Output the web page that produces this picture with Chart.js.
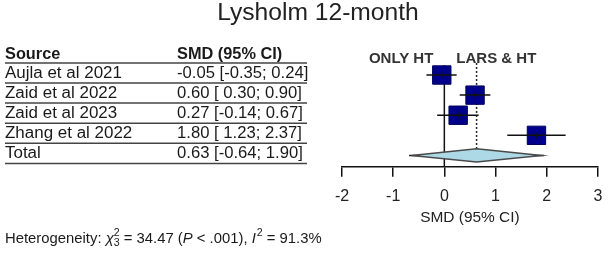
<!DOCTYPE html>
<html>
<head>
<meta charset="utf-8">
<script src="https://cdn.jsdelivr.net/npm/chart.js@4"></script>
<style>
  html, body { margin: 0; padding: 0; background: #fff; }
  #wrap { width: 613px; height: 255px; }
</style>
</head>
<body>
<div id="wrap"><canvas id="myChart" width="613" height="255"></canvas></div>
<script>
// forest plot values
const studies = ["Aujla et al 2021", "Zaid et al 2022", "Zaid et al 2023", "Zhang et al 2022"];
const smd = [-0.05, 0.60, 0.27, 1.80];
const lower = [-0.35, 0.30, -0.14, 1.23];
const upper = [0.24, 0.90, 0.67, 2.37];
const totalLabel = "Total";
const totalSmd = 0.63;
const totalLower = -0.64;
const totalUpper = 1.90;
const xTicks = [-2, -1, 0, 1, 2, 3];

const FONT = '"Liberation Sans", Arial, sans-serif';

function fmt(v) {
  return (v < 0 ? "" : " ") + v.toFixed(2);
}
function ciText(m, lo, hi) {
  return m.toFixed(2) + " [" + fmt(lo) + ";" + fmt(hi) + "]";
}

function txt(ctx, s, x, y, font, color, align, sx) {
  ctx.save();
  ctx.font = font;
  ctx.fillStyle = color;
  ctx.textAlign = align || "left";
  ctx.textBaseline = "alphabetic";
  ctx.translate(x, y);
  ctx.scale(sx || 1, 1);
  ctx.fillText(s, 0, 0);
  const w = ctx.measureText(s).width * (sx || 1);
  ctx.restore();
  return w;
}

const datasets = [];

// CI whiskers for each study (drawn on top)
studies.forEach((s, i) => {
  datasets.push({
    data: [{ x: lower[i], y: i }, { x: upper[i], y: i }],
    showLine: true, borderColor: "#111", borderWidth: 1.5,
    pointRadius: 0, order: 0
  });
});
// small centre cross
datasets.push({
  data: smd.map((v, i) => ({ x: v, y: i })),
  pointStyle: "cross", pointRadius: 3, borderColor: "#111", borderWidth: 1, order: 0
});
// squares
datasets.push({
  data: smd.map((v, i) => ({ x: v, y: i })),
  pointStyle: "rect", pointRadius: 13,
  backgroundColor: "#00008b", borderColor: "#00005a", borderWidth: 1, order: 1
});
// pooled diamond
const ty = studies.length;
datasets.push({
  data: [
    { x: totalLower, y: ty }, { x: totalSmd, y: ty - 0.33 },
    { x: totalUpper, y: ty }, { x: totalSmd, y: ty + 0.33 }, { x: totalLower, y: ty }
  ],
  showLine: true, fill: "shape", tension: 0,
  backgroundColor: "#add8e6", borderColor: "#4a4a4a", borderWidth: 1.5,
  pointRadius: 0, order: 2
});
datasets.push({
  data: [{ x: totalLower - 0.05, y: ty }, { x: totalUpper + 0.05, y: ty }],
  showLine: true, borderColor: "#222", borderWidth: 1.5, pointRadius: 0, order: 3
});
// no-effect line and pooled estimate line
datasets.push({
  data: [{ x: 0, y: -0.5 }, { x: 0, y: 4.56 }],
  showLine: true, borderColor: "#111", borderWidth: 1.5, pointRadius: 0, order: 4
});
datasets.push({
  data: [{ x: totalSmd, y: -0.6 }, { x: totalSmd, y: 3.7 }],
  showLine: true, borderColor: "#222", borderWidth: 1.5, borderDash: [2, 2],
  pointRadius: 0, order: 4
});

const textPlugin = {
  id: "forestText",
  afterDraw(chart) {
    const ctx = chart.ctx;
    const xs = chart.scales.x, ys = chart.scales.y;
    const col = "#1a1a1a";
    const reg = "16px " + FONT, bold = "bold 16px " + FONT;

    // title
    txt(ctx, "Lysholm 12-month", 318, 20, "23px " + FONT, "#222", "center", 1.07);

    // table
    const hy = ys.getPixelForValue(-1);
    txt(ctx, "Source", 5, hy + 4, bold, col, "left", 1.02);
    txt(ctx, "SMD (95% CI)", 177, hy + 4, bold, col, "left", 1.02);
    ctx.save();
    ctx.strokeStyle = "#444";
    ctx.lineWidth = 1.5;
    ctx.beginPath();
    ctx.moveTo(5, hy + 8); ctx.lineTo(307, hy + 8);
    const rows = studies.concat([totalLabel]);
    rows.forEach((r, i) => {
      const py = ys.getPixelForValue(i);
      ctx.moveTo(5, py + 8); ctx.lineTo(307, py + 8);
    });
    ctx.stroke();
    ctx.restore();
    rows.forEach((r, i) => {
      const py = ys.getPixelForValue(i);
      const t = i < studies.length ? ciText(smd[i], lower[i], upper[i]) : ciText(totalSmd, totalLower, totalUpper);
      txt(ctx, r, 5, py + 3, reg, col, "left", 1.06);
      txt(ctx, t, 177, py + 3, reg, col, "left", 1.04);
    });

    // group headers
    const x0 = xs.getPixelForValue(0);
    txt(ctx, "ONLY HT", x0 - 11, hy + 8, "bold 15px " + FONT, "#333", "right", 1);
    txt(ctx, "LARS & HT", x0 + 12, hy + 8, "bold 15px " + FONT, "#333", "left", 1);

    // axis title
    txt(ctx, "SMD (95% CI)", (xs.left + xs.right) / 2, 222, "15px " + FONT, "#222", "center", 1.03);

    // heterogeneity
    const f = "14px " + FONT, fi = "italic 14px " + FONT, fs = "10px " + FONT;
    const k = 1.06;
    let x = 5; const by = 243;
    x += txt(ctx, "Heterogeneity: ", x, by, f, col, "left", k);
    x += txt(ctx, "\u03c7", x, by, fi, col, "left", k);
    const w2 = txt(ctx, "2", x, by - 7, fs, col, "left", k);
    txt(ctx, "3", x, by + 3, fs, col, "left", k);
    x += w2;
    x += txt(ctx, " = 34.47 (", x, by, f, col, "left", k);
    x += txt(ctx, "P", x, by, fi, col, "left", k);
    x += txt(ctx, " < .001), ", x, by, f, col, "left", k);
    x += txt(ctx, "I", x, by, fi, col, "left", k);
    x += txt(ctx, "2", x + 1, by - 7, fs, col, "left", k) + 1;
    txt(ctx, " = 91.3%", x, by, f, col, "left", k);
  }
};

const ctx = document.getElementById("myChart").getContext("2d");
new Chart(ctx, {
  type: "scatter",
  data: { datasets: datasets },
  options: {
    responsive: false,
    animation: false,
    layout: { padding: { left: 342, right: 9, top: 52.7, bottom: 48.3 } },
    plugins: { legend: { display: false }, tooltip: { enabled: false } },
    scales: {
      x: {
        type: "linear", min: -2, max: 3,
        afterBuildTicks: (s) => { s.ticks = xTicks.map(v => ({ value: v })); },
        afterFit: (s) => { s.height = 40; },
        grid: { display: true, drawOnChartArea: false, drawTicks: true, tickLength: 10, color: "#111", lineWidth: 1.5 },
        border: { display: true, color: "#111", width: 1.5 },
        ticks: { font: { size: 16, family: FONT }, color: "#222", padding: 10.7 }
      },
      y: { display: false, reverse: true, min: -1.11, max: 4.56 }
    }
  },
  plugins: [textPlugin]
});
</script>
</body>
</html>
